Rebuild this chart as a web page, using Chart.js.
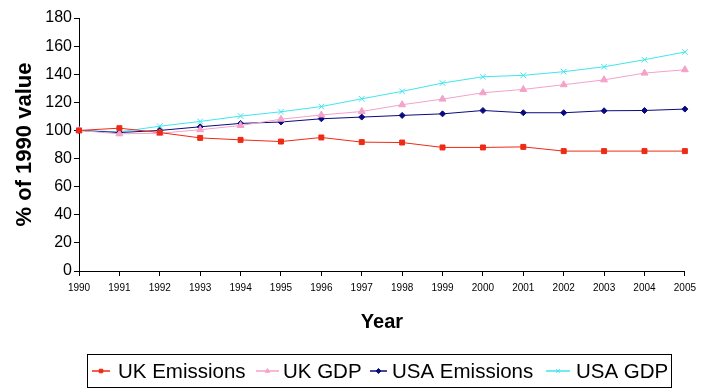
<!DOCTYPE html>
<html>
<head>
<meta charset="utf-8">
<script src="https://cdn.jsdelivr.net/npm/chart.js@4"></script>
<style>
  html, body { margin: 0; padding: 0; background: #fff; }
  canvas { display: block; }
</style>
</head>
<body>
<canvas id="emissionsChart" width="702" height="392"></canvas>
<script>
const years = ['1990', '1991', '1992', '1993', '1994', '1995', '1996', '1997',
  '1998', '1999', '2000', '2001', '2002', '2003', '2004', '2005'];

const ukEmissions = [100, 101.6, 98.5, 94.7, 93.3, 92.1, 95, 91.7, 91.4, 87.9, 87.9, 88.3, 85.3, 85.3, 85.3, 85.3];
const ukGdp = [100, 97.6, 98, 100.5, 103.5, 108, 111, 113.5, 118.3, 122.3, 126.8, 129.2, 132.5, 136, 140.8, 143.2];
const usaEmissions = [100, 98.5, 100, 102.6, 105, 106, 108.3, 109.5, 110.7, 111.8, 114.2, 112.6, 112.6, 114, 114.2, 115.2];
const usaGdp = [100, 99, 103, 106.4, 110.2, 113.3, 117, 122.5, 127.8, 133.7, 138.2, 139.2, 141.8, 145.3, 150.3, 155.8];

const seriesNames = ['UK Emissions', 'UK GDP', 'USA Emissions', 'USA GDP'];
const seriesColors = ['#EE2A14', '#F4A2C8', '#0A0A80', '#3FE6EE'];
const seriesMarkers = ['rect', 'triangle', 'rectRot', 'crossRot'];
const seriesData = [ukEmissions, ukGdp, usaEmissions, usaGdp];
const markerSizes = [3.5, 4, 3, 4];

// legend drawn by hand so it gets the boxed Excel look
const legendLine = [[92, 110], [256, 279], [370, 387], [546, 570]];
const legendTextX = [118, 283, 392, 576];

const boxedLegend = {
  id: 'boxedLegend',
  afterDraw(chart) {
    const ctx = chart.ctx;
    ctx.save();
    ctx.strokeStyle = '#000';
    ctx.lineWidth = 1;
    ctx.strokeRect(87.5, 354.5, 584, 33);
    const y = 371;
    ctx.font = '20.5px "Liberation Sans", Arial, sans-serif';
    ctx.textBaseline = 'middle';
    for (let i = 0; i < seriesNames.length; i++) {
      const [x0, x1] = legendLine[i];
      ctx.strokeStyle = seriesColors[i];
      ctx.fillStyle = seriesColors[i];
      ctx.lineWidth = 1.5;
      ctx.beginPath();
      ctx.moveTo(x0, y);
      ctx.lineTo(x1, y);
      ctx.stroke();
      ctx.lineWidth = 1;
      Chart.helpers.drawPoint(ctx, {
        pointStyle: seriesMarkers[i], radius: 2.5, borderWidth: 1
      }, (x0 + x1) / 2, y);
      ctx.fillStyle = '#000';
      ctx.fillText(seriesNames[i], legendTextX[i], y + 1);
    }
    ctx.restore();
  }
};

const datasets = seriesNames.map((name, i) => ({
  label: name,
  data: seriesData[i],
  borderColor: seriesColors[i],
  backgroundColor: seriesColors[i],
  borderWidth: 1,
  pointStyle: seriesMarkers[i],
  pointRadius: markerSizes[i],
  pointBorderWidth: 1,
  tension: 0
}));

new Chart(document.getElementById('emissionsChart'), {
  type: 'line',
  data: { labels: years, datasets: datasets },
  plugins: [boxedLegend],
  options: {
    responsive: false,
    animation: false,
    layout: { padding: { top: 18, right: 17, bottom: 57, left: 0 } },
    plugins: {
      legend: { display: false },
      tooltip: { enabled: false }
    },
    scales: {
      x: {
        offset: false,
        afterFit: (scale) => { scale.height = 64; },
        grid: { drawOnChartArea: false, drawTicks: true, tickLength: 5, color: '#000' },
        border: { color: '#000', width: 1 },
        ticks: {
          color: '#000',
          padding: 6,
          maxRotation: 0,
          autoSkip: false,
          font: { family: '"Liberation Sans Narrow", "Liberation Sans", Arial', size: 10 }
        },
        title: {
          display: true,
          text: 'Year',
          color: '#000',
          padding: { top: 4, bottom: 1 },
          font: { family: '"Liberation Sans", Arial', size: 20, weight: 'bold', lineHeight: 1.2 }
        }
      },
      y: {
        min: 0,
        max: 180,
        afterFit: (scale) => { scale.width = 79; },
        grid: { drawOnChartArea: false, drawTicks: true, tickLength: 5, color: '#000' },
        border: { color: '#000', width: 1 },
        ticks: {
          stepSize: 20,
          color: '#000',
          padding: 2,
          font: { family: '"Liberation Sans", Arial', size: 16 }
        },
        title: {
          display: true,
          text: '% of 1990 value',
          color: '#000',
          padding: { top: 12, bottom: 0 },
          font: { family: '"Liberation Sans", Arial', size: 22, weight: 'bold', lineHeight: 1.2 }
        }
      }
    }
  }
});
</script>
</body>
</html>
